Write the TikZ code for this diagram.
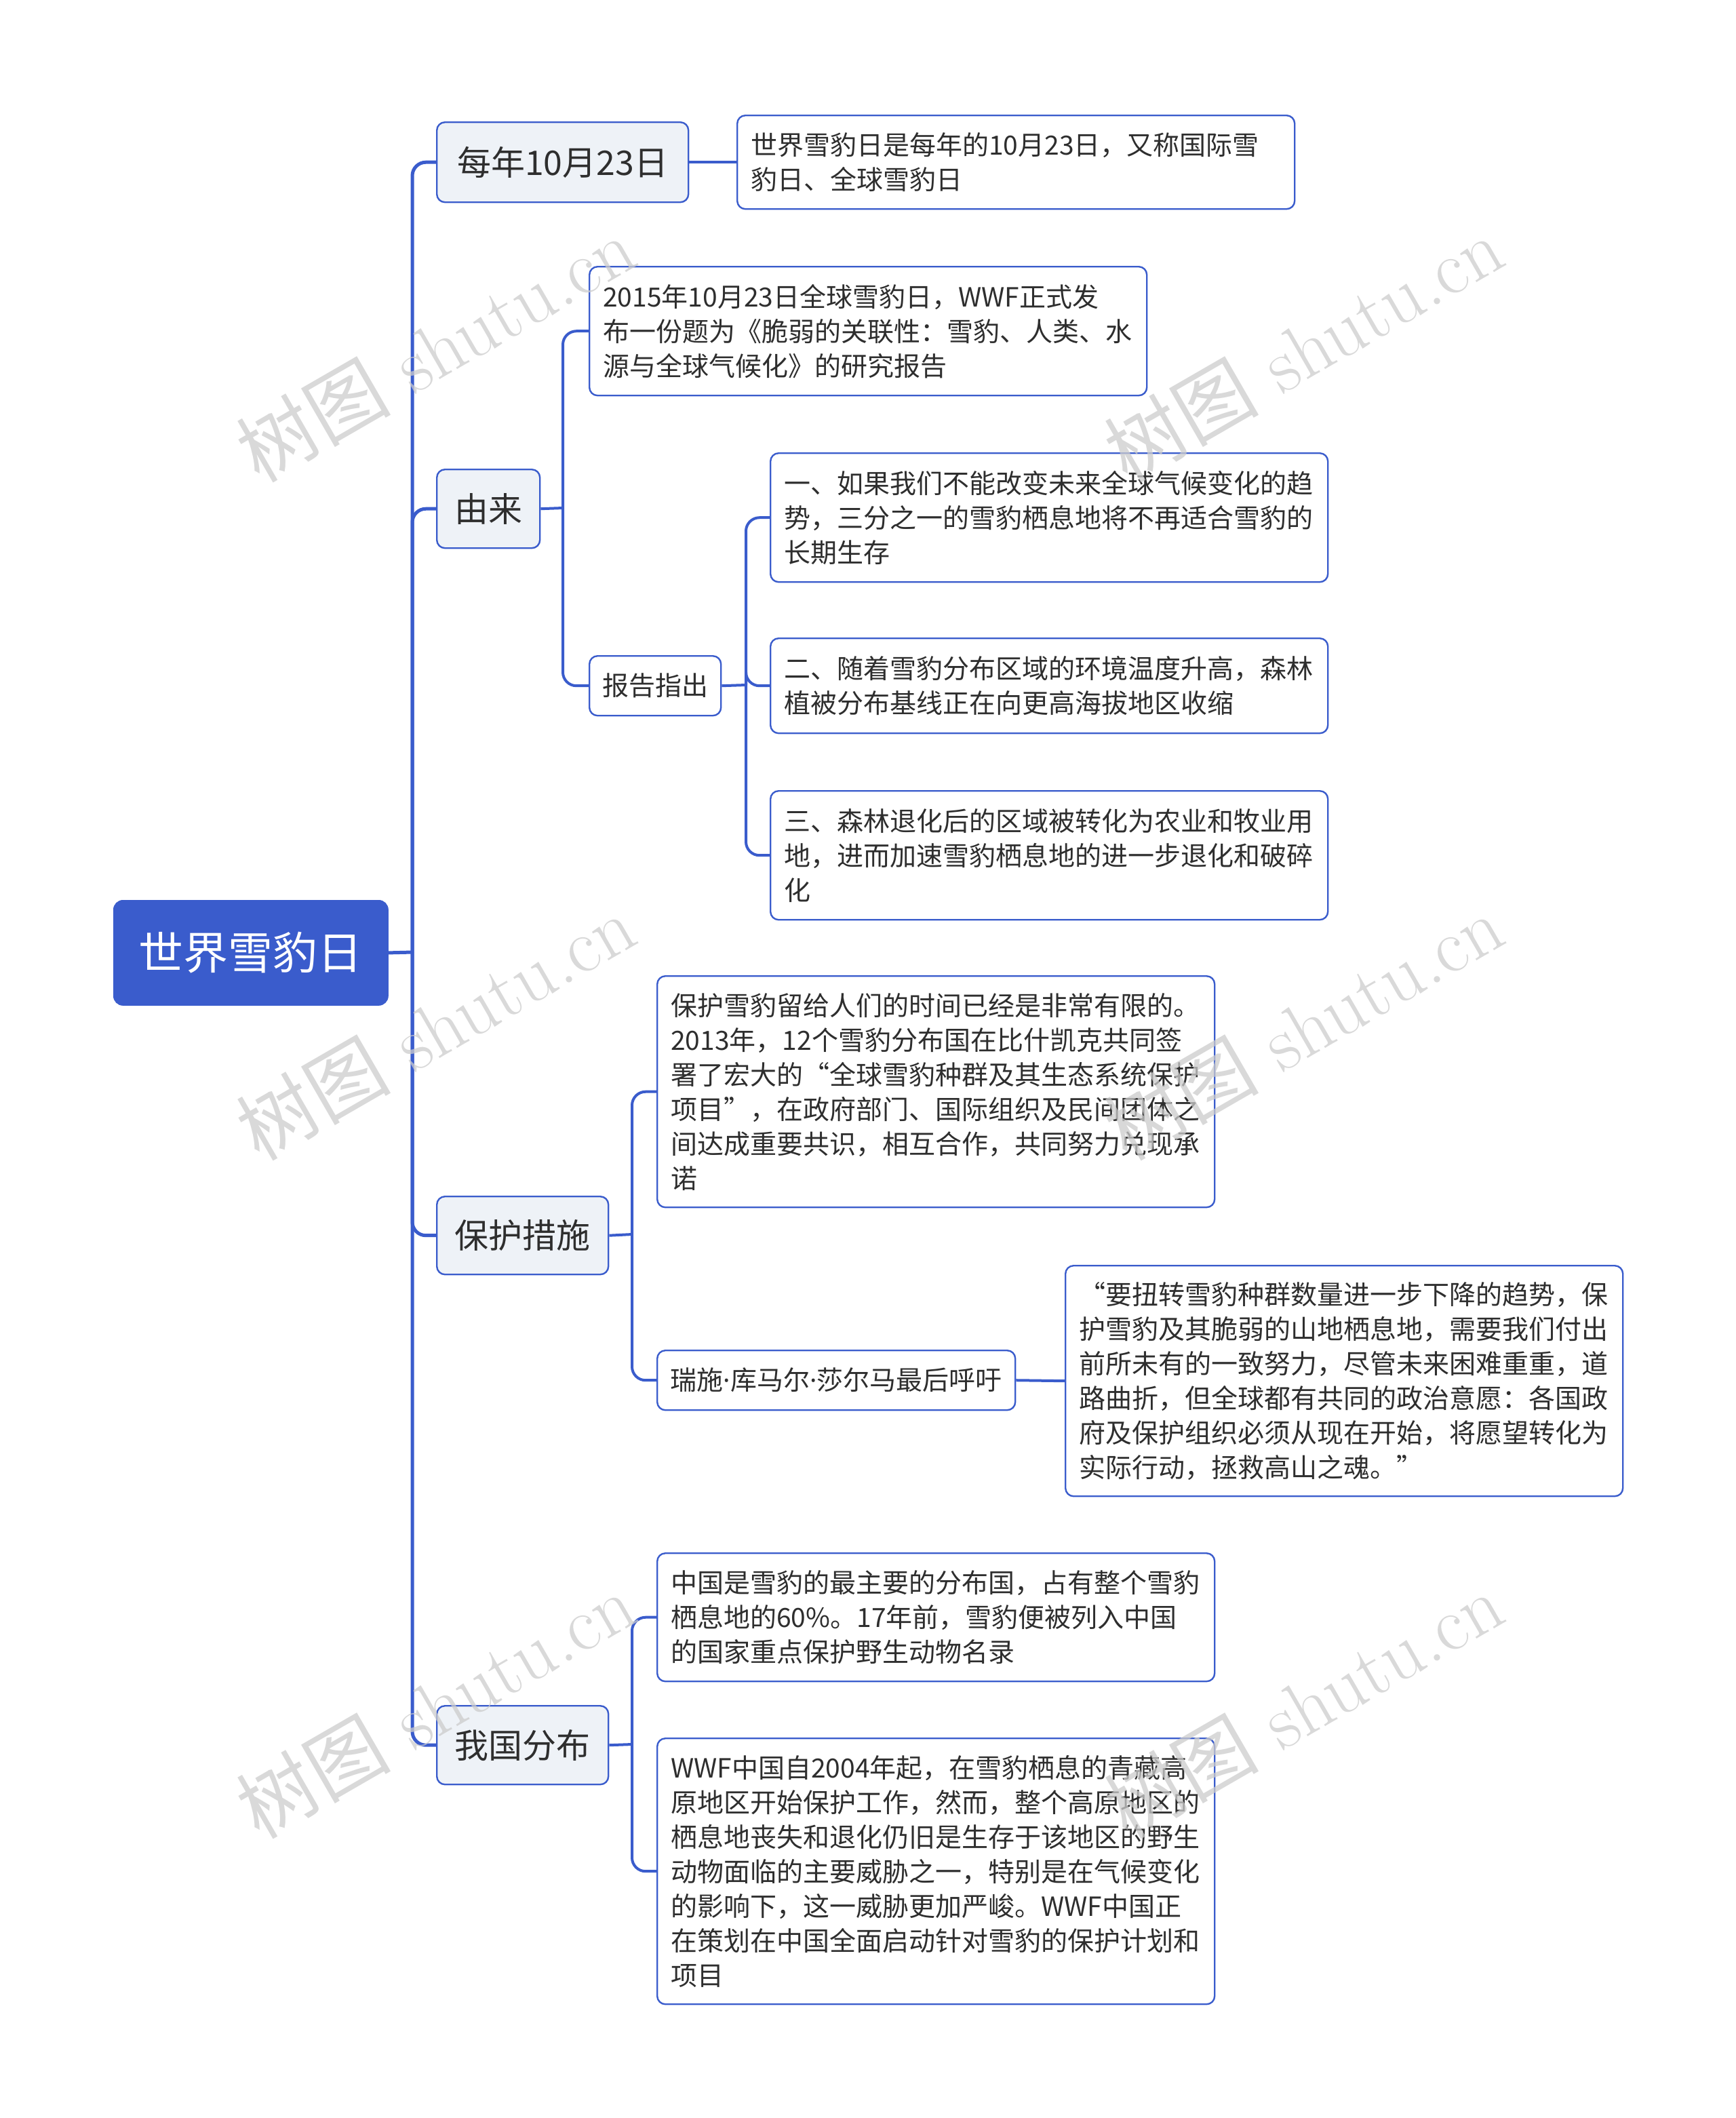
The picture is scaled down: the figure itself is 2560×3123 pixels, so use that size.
\documentclass[tikz,border=0pt]{standalone}
\usepackage{fontspec}
\newfontfamily\cjk{Noto Sans CJK SC}
\newfontfamily\latin{Noto Sans}
\usetikzlibrary{positioning}
\definecolor{mainblue}{HTML}{3A5CCC}
\definecolor{topicfill}{HTML}{EEF2F7}
\definecolor{inkgray}{HTML}{2E2E2E}
\newcommand{\namedot}{{\latin ·}}
\tikzset{
    rootbox/.style={fill=mainblue, draw=mainblue, rounded corners=7pt, text=white,
        font=\cjk\fontsize{33pt}{40pt}\selectfont, inner sep=0pt},
    topicbox/.style={fill=topicfill, draw=mainblue, line width=1.2pt, rounded corners=6pt,
        text=inkgray, font=\cjk\fontsize{25pt}{30pt}\selectfont, inner sep=0pt},
    leafbox/.style={fill=white, draw=mainblue, line width=1.2pt, rounded corners=6pt,
        text=inkgray, font=\cjk\fontsize{19.5pt}{25.5pt}\selectfont,
        text width=391pt, align=left, inner xsep=10pt, inner ysep=0pt},
    smallbox/.style={fill=white, draw=mainblue, line width=1.2pt, rounded corners=6pt,
        text=inkgray, font=\cjk\fontsize{19.5pt}{25.5pt}\selectfont,
        inner xsep=9pt, inner ysep=0pt, minimum height=44pt},
    rootlink/.style={draw=mainblue, line width=2.5pt, rounded corners=10pt},
    link/.style={draw=mainblue, line width=2pt, rounded corners=10pt},
    watermark/.style={text=black!20, opacity=0.75, rotate=30,
        font=\fontsize{57pt}{57pt}\selectfont}
}

\begin{document}
\begin{tikzpicture}[x=0.5pt, y=-0.5pt]
    \useasboundingbox (0,0) rectangle (2560,3123);

    % centre
    \node[rootbox, anchor=north west, minimum width=202.5pt, minimum height=77.5pt] (root) at (167,1327) {世界雪豹日};

    % first level
    \node[topicbox, anchor=north west, minimum width=185.5pt, minimum height=59pt] (date) at (643,179) {每年10月23日};
    \node[topicbox, anchor=north west, minimum width=76pt, minimum height=58pt] (origin) at (643,691) {由来};
    \node[topicbox, anchor=north west, minimum width=126.5pt, minimum height=57.5pt] (protect) at (643,1763) {保护措施};
    \node[topicbox, anchor=north west, minimum width=126.5pt, minimum height=58pt] (china) at (643,2514) {我国分布};

    % leaves
    \node[leafbox, anchor=north west, minimum height=69pt] (dateinfo) at (1086,169)
        {世界雪豹日是每年的10月23日，又称国际雪\\豹日、全球雪豹日};
    \node[leafbox, anchor=north west, minimum height=95pt] (report) at (868,392)
        {2015年10月23日全球雪豹日，WWF正式发\\布一份题为《脆弱的关联性：雪豹、人类、水\\源与全球气候化》的研究报告};
    \node[smallbox, anchor=north west, minimum width=97pt] (findings) at (868,966) {报告指出};
    \node[leafbox, anchor=north west, minimum height=95pt] (findA) at (1135,667)
        {一、如果我们不能改变未来全球气候变化的趋\\势，三分之一的雪豹栖息地将不再适合雪豹的\\长期生存};
    \node[leafbox, anchor=north west, minimum height=70pt] (findB) at (1135,940)
        {二、随着雪豹分布区域的环境温度升高，森林\\植被分布基线正在向更高海拔地区收缩};
    \node[leafbox, anchor=north west, minimum height=95pt] (findC) at (1135,1165)
        {三、森林退化后的区域被转化为农业和牧业用\\地，进而加速雪豹栖息地的进一步退化和破碎\\化};
    \node[leafbox, anchor=north west, minimum height=170.5pt] (accord) at (968,1438)
        {保护雪豹留给人们的时间已经是非常有限的。\\2013年，12个雪豹分布国在比什凯克共同签\\署了宏大的“全球雪豹种群及其生态系统保护\\项目”，在政府部门、国际组织及民间团体之\\间达成重要共识，相互合作，共同努力兑现承\\诺};
    \node[smallbox, anchor=north west, minimum width=264pt] (appeal) at (968,1990) {瑞施\namedot 库马尔\namedot 莎尔马最后呼吁};
    \node[leafbox, anchor=north west, minimum height=170pt] (quote) at (1570,1865)
        {“要扭转雪豹种群数量进一步下降的趋势，保\\护雪豹及其脆弱的山地栖息地，需要我们付出\\前所未有的一致努力，尽管未来困难重重，道\\路曲折，但全球都有共同的政治意愿：各国政\\府及保护组织必须从现在开始，将愿望转化为\\实际行动，拯救高山之魂。”};
    \node[leafbox, anchor=north west, minimum height=94.5pt] (range) at (968,2289)
        {中国是雪豹的最主要的分布国，占有整个雪豹\\栖息地的60\%。17年前，雪豹便被列入中国\\的国家重点保护野生动物名录};
    \node[leafbox, anchor=north west, minimum height=196pt] (wwf) at (968,2562)
        {WWF中国自2004年起，在雪豹栖息的青藏高\\原地区开始保护工作，然而，整个高原地区的\\栖息地丧失和退化仍旧是生存于该地区的野生\\动物面临的主要威胁之一，特别是在气候变化\\的影响下，这一威胁更加严峻。WWF中国正\\在策划在中国全面启动针对雪豹的保护计划和\\项目};

    % branch lines
    \coordinate (rootfork) at (608,1404);
    \draw[rootlink] (root.east) -- (rootfork);
    \foreach \t in {date,origin,protect,china}
        \draw[rootlink] (rootfork) |- (\t.west);

    \draw[link] (date.east) -- (dateinfo.west);

    \coordinate (originfork) at (830,749);
    \draw[link] (origin.east) -- (originfork);
    \foreach \t in {report,findings}
        \draw[link] (originfork) |- (\t.west);

    \coordinate (findfork) at (1100,1010);
    \draw[link] (findings.east) -- (findfork);
    \foreach \t in {findA,findB,findC}
        \draw[link] (findfork) |- (\t.west);

    \coordinate (protectfork) at (932,1820);
    \draw[link] (protect.east) -- (protectfork);
    \foreach \t in {accord,appeal}
        \draw[link] (protectfork) |- (\t.west);
    \draw[link] (appeal.east) -- (quote.west);

    \coordinate (chinafork) at (932,2572);
    \draw[link] (china.east) -- (chinafork);
    \foreach \t in {range,wwf}
        \draw[link] (chinafork) |- (\t.west);

    % watermarks
    \foreach \wx/\wy [count=\i] in {642/514, 1922/514, 642/1514, 1922/1514, 642/2514, 1922/2514}
        \node[watermark] (wm\i) at (\wx,\wy) {{\cjk 树图} shutu.cn};
\end{tikzpicture}
\end{document}
